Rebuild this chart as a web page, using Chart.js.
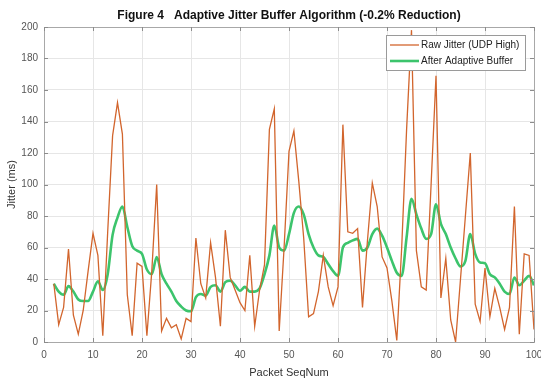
<!DOCTYPE html>
<html>
<head>
<meta charset="utf-8">
<script src="https://cdn.jsdelivr.net/npm/chart.js@4/dist/chart.umd.min.js"></script>
<style>
  html, body { margin: 0; padding: 0; background: #fff; }
  #wrap { width: 541px; height: 380px; }
</style>
</head>
<body>
<div id="wrap"><canvas id="c" width="541" height="380"></canvas></div>
<script>
// Packet sequence numbers
const seqNum = [2,3,4,5,6,7,8,9,10,11,12,13,14,15,16,17,18,19,20,
  21,22,23,24,25,26,27,28,29,30,31,32,33,34,35,36,37,38,39,40,
  41,42,43,44,45,46,47,48,49,50,51,52,53,54,55,56,57,58,59,60,
  61,62,63,64,65,66,67,68,69,70,71,72,73,74,75,76,77,78,79,80,
  81,82,83,84,85,86,87,88,89,90,91,92,93,94,95,96,97,98,99,100];

// Raw jitter per packet (ms)
const rawJitter = [37,11,22,59,17,5,20,45,69,55,4,70,131,152,132,30,4,50,48,
  4,45,100,7,15,9,11,2,15,13,66,37,28,63,41,10,71,41,33,25,
  20,55,10,33,49,135,148,7,60,121,134,102,66,16,18,32,55,35,23,35,
  138,70,69,72,22,64,101,86,54,47,26,1,60,135,198,58,35,33,100,169,
  28,53,14,0,40,80,120,24,13,47,16,34,22,8,22,86,5,56,55,8];

// Jitter after the adaptive buffer (ms)
const bufferedJitter = [37,32,30,35.5,32,27,26,26,32,38.5,33,43,68,79,86,73,61,58,56,
  46,43,54,43,37,32,26,22.5,20,19.5,28.5,30.5,29.5,35,36,32,38,39,36,32.5,
  35,32,32,34,43,55,74,60,58,68.5,82,86,81,68.5,60,55,54,49.5,45,42,
  60,63,64.5,65.5,58,60,68.5,72,67.5,60,51.5,44,42,66.5,91,81,72,65.5,68.5,87.5,
  75,68.5,60,53,48,51.5,68.5,56,50.5,50,43,41,37,32,30.5,41,36,39,42,36];

const xTicks = [0,10,20,30,40,50,60,70,80,90,100];
const yTicks = [0,20,40,60,80,100,120,140,160,180,200];

const titleText = 'Figure 4   Adaptive Jitter Buffer Algorithm (-0.2% Reduction)';
const FONT = '"Liberation Sans", Arial, Helvetica, sans-serif';

const toPoints = (ys) => seqNum.map((x, i) => ({ x: x, y: ys[i] }));

// Title, axes frame with inward ticks, and in-plot legend
const decor = {
  id: 'decor',
  afterDraw(chart) {
    const ctx = chart.ctx;
    const a = chart.chartArea;
    const xs = chart.scales.x, ys = chart.scales.y;
    ctx.save();
    // frame
    ctx.strokeStyle = '#a8a8a8';
    ctx.lineWidth = 1;
    ctx.strokeRect(Math.round(a.left) + 0.5, Math.round(a.top) + 0.5,
      Math.round(a.right - a.left), Math.round(a.bottom - a.top));
    // inward ticks
    ctx.strokeStyle = '#8c8c8c';
    ctx.beginPath();
    xTicks.forEach(v => {
      const px = Math.round(xs.getPixelForValue(v)) + 0.5;
      ctx.moveTo(px, a.bottom); ctx.lineTo(px, a.bottom - 4);
      ctx.moveTo(px, a.top); ctx.lineTo(px, a.top + 4);
    });
    yTicks.forEach(v => {
      const py = Math.round(ys.getPixelForValue(v)) + 0.5;
      ctx.moveTo(a.left, py); ctx.lineTo(a.left + 4, py);
      ctx.moveTo(a.right, py); ctx.lineTo(a.right - 4, py);
    });
    ctx.stroke();

    // title
    ctx.fillStyle = '#111';
    ctx.font = 'bold 12px ' + FONT;
    ctx.textAlign = 'center';
    ctx.textBaseline = 'middle';
    ctx.fillText(titleText, (a.left + a.right) / 2, 16);

    // legend
    const lx = 386, ly = 35, lw = 139, lh = 35;
    ctx.fillStyle = '#fff';
    ctx.fillRect(lx, ly, lw, lh);
    ctx.strokeStyle = '#9a9a9a';
    ctx.lineWidth = 1;
    ctx.strokeRect(lx + 0.5, ly + 0.5, lw, lh);
    ctx.font = '10px ' + FONT;
    ctx.textAlign = 'left';
    ctx.textBaseline = 'middle';
    chart.data.datasets.forEach((ds, i) => {
      const cy = ly + 10 + i * 16;
      ctx.strokeStyle = ds.borderColor;
      ctx.lineWidth = ds.borderWidth;
      ctx.beginPath();
      ctx.moveTo(lx + 4, cy); ctx.lineTo(lx + 33, cy);
      ctx.stroke();
      ctx.fillStyle = '#222';
      ctx.fillText(ds.label, lx + 35, cy + 0.5);
    });
    ctx.restore();
  }
};

new Chart(document.getElementById('c'), {
  type: 'line',
  data: {
    datasets: [
      {
        label: 'Raw Jitter (UDP High)',
        data: toPoints(rawJitter),
        borderColor: '#d2652d',
        borderWidth: 1.3,
        pointRadius: 0,
        tension: 0,
        fill: false
      },
      {
        label: 'After Adaptive Buffer',
        data: toPoints(bufferedJitter),
        borderColor: '#3cc46c',
        borderWidth: 2.6,
        pointRadius: 0,
        tension: 0.35,
        cubicInterpolationMode: 'monotone',
        fill: false
      }
    ]
  },
  options: {
    responsive: false,
    animation: false,
    devicePixelRatio: 1,
    layout: { padding: { top: 27, left: 5, right: 7, bottom: 0 } },
    plugins: {
      legend: { display: false },
      title: { display: false },
      tooltip: { enabled: false }
    },
    scales: {
      x: {
        type: 'linear',
        min: 0, max: 100,
        afterBuildTicks: (s) => { s.ticks = xTicks.map(v => ({ value: v })); },
        afterFit: (s) => { s.height = 38; s.paddingLeft = 0; s.paddingRight = 0; },
        grid: { color: '#e6e6e6', drawTicks: false, lineWidth: 1 },
        border: { display: false },
        ticks: { color: '#555', font: { family: FONT, size: 10 }, padding: 7, maxRotation: 0, autoSkip: false },
        title: { display: true, text: 'Packet SeqNum', color: '#333', font: { family: FONT, size: 11 }, padding: 0 }
      },
      y: {
        min: 0, max: 200,
        afterBuildTicks: (s) => { s.ticks = yTicks.map(v => ({ value: v })); },
        afterFit: (s) => { s.width = 39; },
        grid: { color: '#e6e6e6', drawTicks: false, lineWidth: 1 },
        border: { display: false },
        ticks: { color: '#555', font: { family: FONT, size: 10 }, padding: 6 },
        title: { display: true, text: 'Jitter (ms)', color: '#333', font: { family: FONT, size: 11 }, padding: 0 }
      }
    }
  },
  plugins: [decor]
});
</script>
</body>
</html>
